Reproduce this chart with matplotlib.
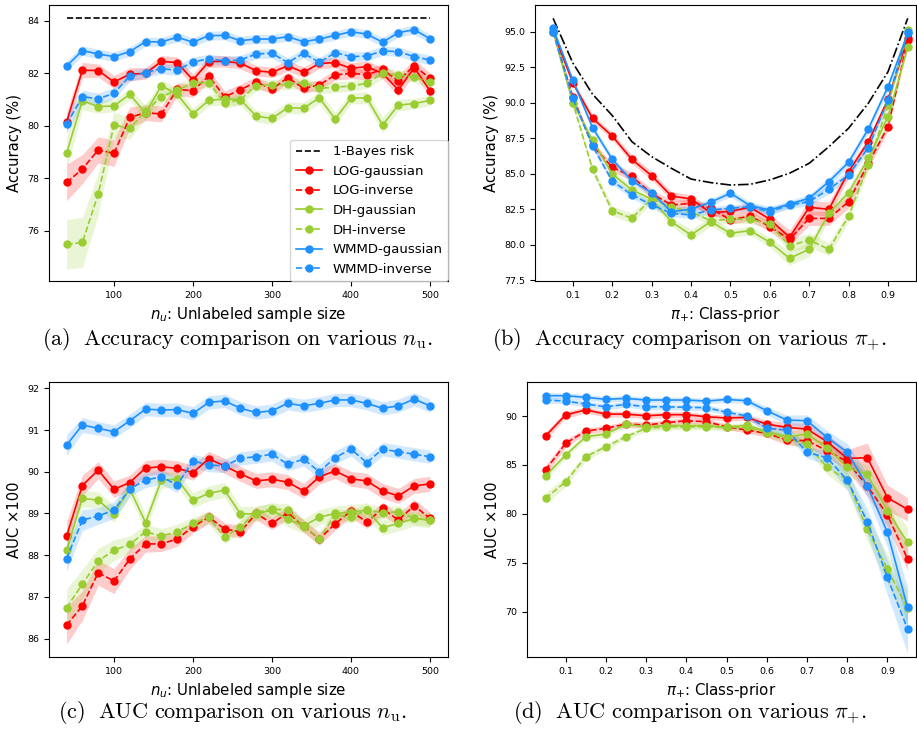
import matplotlib
matplotlib.use("Agg")
import matplotlib.pyplot as plt

# ---------- data: accuracy / AUC vs unlabeled sample size ----------
nu = [40, 60, 80, 100, 120, 140, 160, 180, 200, 220, 240, 260,
      280, 300, 320, 340, 360, 380, 400, 420, 440, 460, 480, 500]
bayes_nu = 84.12

acc_nu_log_g = [80.15, 82.12, 82.11, 81.67, 81.97, 82.0, 82.46, 82.41, 81.75, 82.45, 82.46, 82.39,
                82.1, 82.04, 82.29, 82.04, 82.38, 82.41, 82.19, 82.26, 82.0, 81.37, 82.22, 81.34]
acc_nu_log_i = [77.84, 78.35, 79.08, 78.95, 80.32, 80.5, 80.45, 81.39, 81.34, 81.9, 81.11, 81.37,
                81.68, 81.39, 81.84, 81.43, 81.56, 81.94, 82.0, 81.95, 82.15, 81.72, 82.3, 81.81]
acc_nu_dh_g = [78.95, 80.96, 80.73, 80.76, 81.2, 80.48, 81.53, 81.2, 80.46, 80.97, 81.02, 81.0,
               80.37, 80.28, 80.69, 80.67, 81.07, 80.26, 81.05, 81.07, 80.03, 80.79, 80.85, 80.97]
acc_nu_dh_i = [75.48, 75.55, 77.39, 80.03, 79.9, 80.55, 81.11, 81.37, 81.62, 81.65, 80.86, 81.0,
               81.53, 81.56, 81.58, 81.65, 81.43, 81.47, 81.52, 81.62, 82.0, 81.94, 81.85, 81.66]
acc_nu_wm_g = [82.28, 82.87, 82.74, 82.64, 82.83, 83.21, 83.2, 83.38, 83.19, 83.44, 83.45, 83.25,
               83.31, 83.31, 83.4, 83.21, 83.31, 83.45, 83.59, 83.5, 83.19, 83.55, 83.67, 83.32]
acc_nu_wm_i = [80.06, 81.11, 81.03, 81.24, 81.9, 82.03, 82.18, 82.12, 82.44, 82.55, 82.48, 82.51,
               82.74, 82.77, 82.41, 82.77, 82.42, 82.79, 82.64, 82.66, 82.86, 82.83, 82.64, 82.51]

acc_nu_log_g_sd = [0.35, 0.3, 0.25, 0.25, 0.25, 0.22, 0.22, 0.22, 0.22, 0.22, 0.22, 0.22,
                   0.2, 0.2, 0.2, 0.2, 0.2, 0.2, 0.22, 0.22, 0.22, 0.25, 0.25, 0.25]
acc_nu_log_i_sd = [0.7, 0.55, 0.5, 0.5, 0.4, 0.3, 0.3, 0.25, 0.25, 0.25, 0.22, 0.22,
                   0.2, 0.2, 0.2, 0.2, 0.2, 0.2, 0.2, 0.2, 0.22, 0.22, 0.22, 0.22]
acc_nu_dh_g_sd = [0.6, 0.35, 0.25, 0.22, 0.22, 0.3, 0.22, 0.25, 0.22, 0.22, 0.22, 0.22,
                  0.22, 0.22, 0.22, 0.22, 0.22, 0.25, 0.22, 0.22, 0.3, 0.22, 0.2, 0.2]
acc_nu_dh_i_sd = [0.95, 0.95, 0.8, 0.5, 0.4, 0.3, 0.25, 0.22, 0.22, 0.2, 0.2, 0.2,
                  0.2, 0.2, 0.2, 0.2, 0.2, 0.2, 0.2, 0.2, 0.2, 0.2, 0.2, 0.2]
acc_nu_wm_g_sd = [0.2, 0.18, 0.18, 0.18, 0.18, 0.17, 0.17, 0.17, 0.17, 0.17, 0.17, 0.17,
                  0.17, 0.17, 0.17, 0.17, 0.17, 0.17, 0.17, 0.17, 0.17, 0.17, 0.17, 0.17]
acc_nu_wm_i_sd = [0.35, 0.25, 0.22, 0.22, 0.2, 0.2, 0.2, 0.2, 0.18, 0.18, 0.18, 0.18,
                  0.18, 0.18, 0.18, 0.18, 0.18, 0.18, 0.18, 0.18, 0.18, 0.18, 0.18, 0.18]

auc_nu_log_g = [88.46, 89.67, 90.04, 89.58, 89.74, 90.09, 90.12, 90.08, 89.98, 90.31, 90.14, 89.95,
                89.78, 89.82, 89.75, 89.54, 89.88, 90.02, 89.83, 89.78, 89.54, 89.42, 89.66, 89.71]
auc_nu_log_i = [86.32, 86.79, 87.58, 87.38, 87.91, 88.27, 88.27, 88.39, 88.68, 88.91, 88.63, 88.56,
                89.0, 88.76, 89.02, 88.7, 88.39, 88.75, 89.06, 88.79, 89.12, 88.84, 89.19, 88.88]
auc_nu_dh_g = [88.12, 89.36, 89.32, 88.99, 89.59, 88.78, 89.8, 89.82, 89.32, 89.48, 89.56, 88.99,
               88.99, 89.08, 88.86, 88.7, 88.91, 89.0, 89.03, 89.08, 88.66, 88.76, 88.88, 88.84]
auc_nu_dh_i = [86.74, 87.31, 87.86, 88.12, 88.26, 88.56, 88.46, 88.56, 88.76, 88.91, 88.43, 88.68,
               89.02, 89.1, 89.09, 88.7, 88.4, 88.97, 88.92, 89.08, 89.02, 89.04, 88.88, 88.84]
auc_nu_wm_g = [90.64, 91.12, 91.04, 90.96, 91.22, 91.5, 91.48, 91.49, 91.4, 91.66, 91.7, 91.52,
               91.42, 91.46, 91.64, 91.58, 91.64, 91.72, 91.72, 91.64, 91.52, 91.58, 91.74, 91.58]
auc_nu_wm_i = [87.92, 88.84, 88.94, 89.08, 89.59, 89.8, 89.88, 89.68, 90.26, 90.16, 90.14, 90.32,
               90.36, 90.42, 90.18, 90.3, 90.0, 90.34, 90.54, 90.22, 90.54, 90.48, 90.42, 90.36]

auc_nu_log_g_sd = [0.35, 0.25, 0.2, 0.2, 0.18, 0.18, 0.18, 0.18, 0.18, 0.18, 0.18, 0.18,
                   0.18, 0.18, 0.18, 0.18, 0.18, 0.18, 0.18, 0.18, 0.18, 0.18, 0.18, 0.18]
auc_nu_log_i_sd = [0.45, 0.35, 0.3, 0.3, 0.25, 0.2, 0.18, 0.18, 0.15, 0.15, 0.15, 0.15,
                   0.15, 0.15, 0.15, 0.15, 0.15, 0.15, 0.15, 0.15, 0.15, 0.15, 0.15, 0.15]
auc_nu_dh_g_sd = [0.3, 0.2, 0.2, 0.2, 0.2, 0.2, 0.2, 0.18, 0.18, 0.18, 0.18, 0.18,
                  0.18, 0.18, 0.18, 0.18, 0.18, 0.18, 0.18, 0.18, 0.18, 0.18, 0.18, 0.18]
auc_nu_dh_i_sd = [0.45, 0.35, 0.3, 0.25, 0.2, 0.18, 0.18, 0.18, 0.15, 0.15, 0.15, 0.15,
                  0.15, 0.15, 0.15, 0.15, 0.15, 0.15, 0.15, 0.15, 0.15, 0.15, 0.15, 0.15]
auc_nu_wm_g_sd = [0.25, 0.18, 0.16, 0.16, 0.16, 0.16, 0.16, 0.16, 0.16, 0.16, 0.16, 0.16,
                  0.16, 0.16, 0.16, 0.16, 0.16, 0.16, 0.16, 0.16, 0.16, 0.16, 0.16, 0.16]
auc_nu_wm_i_sd = [0.3, 0.25, 0.2, 0.2, 0.18, 0.18, 0.18, 0.18, 0.16, 0.16, 0.16, 0.16,
                  0.16, 0.16, 0.16, 0.16, 0.16, 0.16, 0.16, 0.16, 0.16, 0.16, 0.16, 0.16]

# ---------- data: accuracy / AUC vs class prior ----------
prior = [0.05, 0.1, 0.15, 0.2, 0.25, 0.3, 0.35, 0.4, 0.45, 0.5,
         0.55, 0.6, 0.65, 0.7, 0.75, 0.8, 0.85, 0.9, 0.95]
prior_ticks = [0.1, 0.2, 0.3, 0.4, 0.5, 0.6, 0.7, 0.8, 0.9]
bayes_pi = [95.94, 92.8, 90.6, 89.1, 87.25, 86.2, 85.38, 84.62, 84.37, 84.2,
            84.25, 84.56, 85.03, 85.73, 86.9, 88.2, 89.96, 92.18, 95.94]

acc_pi_log_g = [95.0, 91.4, 88.9, 87.65, 86.0, 84.86, 83.43, 83.22, 82.25, 82.35,
                82.63, 81.79, 80.52, 82.63, 82.49, 85.14, 87.25, 90.24, 94.53]
acc_pi_log_i = [95.0, 90.4, 87.0, 85.45, 84.8, 83.6, 82.8, 82.9, 82.56, 81.74,
                82.02, 81.27, 80.38, 81.85, 81.85, 83.03, 85.73, 88.31, 94.42]
acc_pi_dh_g = [95.0, 90.0, 87.37, 84.98, 83.85, 83.2, 81.62, 80.68, 81.62, 80.8,
               80.99, 80.17, 79.04, 79.67, 82.21, 83.66, 86.08, 89.01, 93.9]
acc_pi_dh_i = [95.0, 90.0, 85.31, 82.39, 81.86, 83.22, 82.63, 82.3, 81.69, 81.79,
               81.79, 81.46, 79.91, 80.33, 79.67, 82.02, 85.61, 89.84, 95.12]
acc_pi_wm_g = [95.23, 91.58, 88.24, 86.01, 84.49, 83.66, 82.32, 82.5, 82.99, 83.62,
               82.75, 82.44, 82.86, 83.27, 84.44, 85.8, 88.15, 91.13, 94.88]
acc_pi_wm_i = [95.0, 90.31, 86.95, 84.49, 83.5, 82.8, 82.21, 82.09, 82.44, 82.56,
               82.67, 82.32, 82.8, 83.03, 83.9, 84.91, 86.83, 90.19, 94.95]

acc_pi_log_g_sd = [0.1, 0.2, 0.25, 0.25, 0.3, 0.3, 0.3, 0.3, 0.3, 0.3,
                   0.3, 0.35, 0.5, 0.5, 0.5, 0.4, 0.3, 0.3, 0.2]
acc_pi_log_i_sd = [0.1, 0.2, 0.25, 0.3, 0.3, 0.3, 0.3, 0.3, 0.3, 0.3,
                   0.35, 0.35, 0.4, 0.5, 0.5, 0.45, 0.35, 0.3, 0.2]
acc_pi_dh_g_sd = [0.1, 0.15, 0.2, 0.25, 0.3, 0.3, 0.3, 0.4, 0.3, 0.3,
                  0.3, 0.35, 0.5, 0.5, 0.4, 0.4, 0.4, 0.5, 0.2]
acc_pi_dh_i_sd = [0.1, 0.15, 0.25, 0.35, 0.35, 0.3, 0.3, 0.3, 0.3, 0.3,
                  0.3, 0.35, 0.4, 0.5, 0.45, 0.4, 0.4, 0.4, 0.2]
acc_pi_wm_g_sd = [0.1, 0.15, 0.2, 0.25, 0.25, 0.25, 0.25, 0.25, 0.25, 0.25,
                  0.25, 0.25, 0.25, 0.25, 0.3, 0.3, 0.3, 0.3, 0.2]
acc_pi_wm_i_sd = [0.1, 0.15, 0.2, 0.25, 0.25, 0.25, 0.25, 0.25, 0.25, 0.25,
                  0.25, 0.25, 0.25, 0.3, 0.3, 0.3, 0.3, 0.3, 0.2]

auc_pi_log_g = [87.96, 90.12, 90.63, 90.2, 90.2, 90.03, 90.14, 90.14, 89.93, 89.8,
                89.86, 89.18, 88.84, 88.67, 87.38, 85.67, 85.74, 81.65, 80.46]
auc_pi_log_i = [84.48, 87.21, 88.47, 88.74, 89.18, 89.08, 89.32, 89.52, 89.42, 88.91,
                88.57, 88.23, 87.55, 87.48, 86.46, 85.33, 82.85, 79.89, 75.39]
auc_pi_dh_g = [83.87, 86.01, 87.89, 88.16, 89.15, 88.91, 89.01, 89.01, 89.01, 88.84,
               89.08, 88.4, 87.89, 88.16, 86.76, 84.75, 84.04, 80.29, 77.09]
auc_pi_dh_i = [81.58, 83.28, 85.84, 86.86, 87.89, 88.74, 88.91, 88.91, 88.91, 88.84,
               88.84, 88.3, 87.72, 87.11, 84.75, 83.46, 78.41, 74.36, 70.33]
auc_pi_wm_g = [92.08, 92.08, 91.91, 91.71, 91.81, 91.64, 91.64, 91.64, 91.53, 91.7,
               91.57, 90.55, 89.59, 89.52, 87.82, 86.29, 82.87, 78.1, 70.44]
auc_pi_wm_i = [91.64, 91.53, 91.23, 90.95, 91.19, 90.95, 90.95, 90.89, 90.86, 90.38,
               90.03, 88.74, 88.57, 86.29, 85.74, 83.46, 79.19, 73.5, 68.22]

auc_pi_log_g_sd = [0.4, 0.35, 0.3, 0.3, 0.3, 0.3, 0.3, 0.3, 0.3, 0.3,
                   0.3, 0.4, 0.5, 0.6, 0.7, 0.9, 1.5, 1.3, 1.2]
auc_pi_log_i_sd = [0.5, 0.4, 0.3, 0.3, 0.3, 0.3, 0.3, 0.3, 0.3, 0.3,
                   0.3, 0.4, 0.5, 0.6, 0.7, 0.9, 1.0, 1.2, 1.2]
auc_pi_dh_g_sd = [0.4, 0.35, 0.3, 0.3, 0.3, 0.3, 0.3, 0.3, 0.3, 0.3,
                  0.3, 0.4, 0.5, 0.6, 0.7, 0.9, 1.0, 1.2, 1.5]
auc_pi_dh_i_sd = [0.6, 0.5, 0.4, 0.3, 0.3, 0.3, 0.3, 0.3, 0.3, 0.3,
                  0.3, 0.4, 0.5, 0.6, 0.7, 1.0, 1.2, 1.5, 1.8]
auc_pi_wm_g_sd = [0.3, 0.3, 0.3, 0.3, 0.3, 0.3, 0.3, 0.3, 0.3, 0.3,
                  0.3, 0.4, 0.5, 0.6, 0.7, 0.9, 1.2, 1.5, 2.0]
auc_pi_wm_i_sd = [0.3, 0.3, 0.3, 0.3, 0.3, 0.3, 0.3, 0.3, 0.3, 0.3,
                  0.3, 0.4, 0.5, 0.6, 0.7, 1.0, 1.3, 1.8, 2.5]

labels = ["LOG-gaussian", "LOG-inverse", "DH-gaussian", "DH-inverse",
          "WMMD-gaussian", "WMMD-inverse"]
colors = ["#ff0000", "#ff0000", "#9acd32", "#9acd32", "#1e90ff", "#1e90ff"]
styles = ["-", "--", "-", "--", "-", "--"]


def draw(ax, x, means, sds):
    for m, s, lab, c, ls in zip(means, sds, labels, colors, styles):
        lo = [a - b for a, b in zip(m, s)]
        hi = [a + b for a, b in zip(m, s)]
        ax.fill_between(x, lo, hi, color=c, alpha=0.2, lw=0)
        ax.plot(x, m, ls=ls, color=c, marker="o", ms=5, lw=1.2, label=lab)
    ax.tick_params(labelsize=6.8)


fig = plt.figure(figsize=(9.17, 7.31), dpi=100)

# (a)
ax = fig.add_axes([0.0534, 0.6156, 0.4351, 0.3776])
ax.hlines(bayes_nu, nu[0], nu[-1], colors="black", linestyles="--", lw=1.2, label="1-Bayes risk")
draw(ax, nu, [acc_nu_log_g, acc_nu_log_i, acc_nu_dh_g, acc_nu_dh_i, acc_nu_wm_g, acc_nu_wm_i],
     [acc_nu_log_g_sd, acc_nu_log_i_sd, acc_nu_dh_g_sd, acc_nu_dh_i_sd, acc_nu_wm_g_sd, acc_nu_wm_i_sd])
ax.set_xlim(17.7, 522.8)
ax.set_ylim(74.08, 84.61)
ax.set_xlabel("$n_u$: Unlabeled sample size", fontsize=10.8)
ax.set_ylabel("Accuracy (%)", fontsize=10.6)
ax.legend(loc="lower right", fontsize=9.5, borderaxespad=0)

# (b)
ax = fig.add_axes([0.5834, 0.6156, 0.4155, 0.3776])
ax.plot(prior, bayes_pi, ls="-.", color="black", lw=1.2)
draw(ax, prior, [acc_pi_log_g, acc_pi_log_i, acc_pi_dh_g, acc_pi_dh_i, acc_pi_wm_g, acc_pi_wm_i],
     [acc_pi_log_g_sd, acc_pi_log_i_sd, acc_pi_dh_g_sd, acc_pi_dh_i_sd, acc_pi_wm_g_sd, acc_pi_wm_i_sd])
ax.set_xticks(prior_ticks)
ax.set_xlim(0.004, 0.971)
ax.set_ylim(77.44, 96.88)
ax.set_xlabel(r"$\pi_{+}$: Class-prior", fontsize=10.8)
ax.set_ylabel("Accuracy (%)", fontsize=10.6)

# (c)
ax = fig.add_axes([0.0534, 0.1012, 0.4351, 0.3762])
draw(ax, nu, [auc_nu_log_g, auc_nu_log_i, auc_nu_dh_g, auc_nu_dh_i, auc_nu_wm_g, auc_nu_wm_i],
     [auc_nu_log_g_sd, auc_nu_log_i_sd, auc_nu_dh_g_sd, auc_nu_dh_i_sd, auc_nu_wm_g_sd, auc_nu_wm_i_sd])
ax.set_xlim(17.7, 522.8)
ax.set_ylim(85.56, 92.15)
ax.set_xlabel("$n_u$: Unlabeled sample size", fontsize=10.8)
ax.set_ylabel("AUC ×100", fontsize=10.6)

# (d)
ax = fig.add_axes([0.5747, 0.1012, 0.4242, 0.3762])
draw(ax, prior, [auc_pi_log_g, auc_pi_log_i, auc_pi_dh_g, auc_pi_dh_i, auc_pi_wm_g, auc_pi_wm_i],
     [auc_pi_log_g_sd, auc_pi_log_i_sd, auc_pi_dh_g_sd, auc_pi_dh_i_sd, auc_pi_wm_g_sd, auc_pi_wm_i_sd])
ax.set_xticks(prior_ticks)
ax.set_xlim(0.004, 0.971)
ax.set_ylim(65.36, 93.48)
ax.set_xlabel(r"$\pi_{+}$: Class-prior", fontsize=10.8)
ax.set_ylabel("AUC ×100", fontsize=10.6)

# captions
caps = [(237, 340, r"$\mathrm{(a)\ \ Accuracy\ comparison\ on\ various\ }n_{\mathrm{u}}\mathrm{.}$"),
        (689, 340, r"$\mathrm{(b)\ \ Accuracy\ comparison\ on\ various\ }\pi_{+}\mathrm{.}$"),
        (232, 713, r"$\mathrm{(c)\ \ AUC\ comparison\ on\ various\ }n_{\mathrm{u}}\mathrm{.}$"),
        (690, 713, r"$\mathrm{(d)\ \ AUC\ comparison\ on\ various\ }\pi_{+}\mathrm{.}$")]
for cx, cy, txt in caps:
    fig.text(cx / 917, 1 - cy / 731, txt, ha="center", va="center", fontsize=16,
             math_fontfamily="cm")

fig.savefig("out.png", dpi=100)
